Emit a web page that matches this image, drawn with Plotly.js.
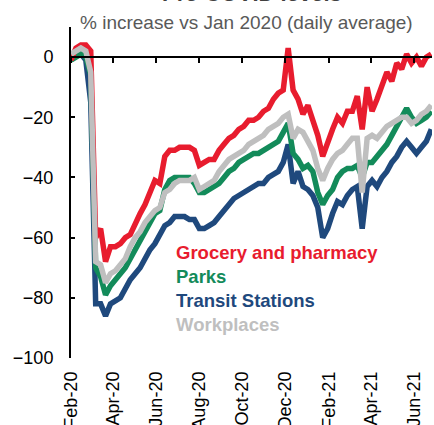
<!DOCTYPE html>
<html>
<head>
<meta charset="utf-8">
<script src="https://cdn.plot.ly/plotly-3.0.1.min.js"></script>
<style>html,body{margin:0;padding:0;background:#fff;}#chart{width:434px;height:425px;}</style>
</head>
<body>
<div id="chart"></div>
<script>
// Weekly observation dates
const dates = [
 '2020-02-15','2020-02-22','2020-02-29','2020-03-07','2020-03-14','2020-03-21','2020-03-28',
 '2020-04-04','2020-04-11','2020-04-18','2020-04-25','2020-05-02','2020-05-09','2020-05-16',
 '2020-05-23','2020-05-30','2020-06-06','2020-06-13','2020-06-20','2020-06-27','2020-07-04',
 '2020-07-11','2020-07-18','2020-07-25','2020-08-01','2020-08-08','2020-08-15','2020-08-22',
 '2020-08-29','2020-09-05','2020-09-12','2020-09-19','2020-09-26','2020-10-03','2020-10-10',
 '2020-10-17','2020-10-24','2020-10-31','2020-11-07','2020-11-14','2020-11-21','2020-11-28',
 '2020-12-05','2020-12-12','2020-12-19','2020-12-26','2021-01-02','2021-01-09','2021-01-16',
 '2021-01-23','2021-01-30','2021-02-06','2021-02-13','2021-02-20','2021-02-27','2021-03-06',
 '2021-03-13','2021-03-20','2021-03-27','2021-04-03','2021-04-10','2021-04-17','2021-04-24',
 '2021-05-01','2021-05-08','2021-05-15','2021-05-22','2021-05-29','2021-06-05','2021-06-12',
 '2021-06-19','2021-06-26','2021-07-03','2021-07-10'
];

const grocery = [-1,3,4,4,2,-60,-57,-68,-63,-63,-62,-60,-59,-55,-52,-49,-45,-41,-42,-33,-31,-31,-30,-30,-30,-31,-36,-35,-34,-34,-31,-29,-27,-26,-24,-23,-21,-21,-20,-18,-17,-14,-12,-11,3,-11,-14,-19,-16,-21,-26,-33,-28,-24,-20,-22,-18,-18,-13,-24,-10,-18,-14,-9,-5,-8,-2,-4,1,-2,0,-3,0,1];

const parks = [-1,0,1,0,-6,-70,-73,-79,-76,-74,-72,-70,-67,-64,-61,-58,-55,-52,-51,-44,-41,-40,-40,-40,-40,-42,-45,-45,-44,-43,-42,-40,-38,-37,-35,-34,-33,-32,-32,-31,-30,-29,-28,-25,-22,-32,-34,-37,-36,-38,-45,-49,-46,-44,-40,-38,-37,-37,-36,-40,-35,-35,-33,-31,-29,-26,-23,-20,-17,-20,-22,-21,-20,-18];

const transit = [0,1,1,-1,-15,-82,-82,-86,-82,-81,-80,-77,-74,-72,-70,-67,-64,-62,-59,-56,-55,-53,-53,-53,-54,-54,-57,-57,-56,-55,-53,-51,-49,-47,-46,-45,-44,-43,-42,-42,-40,-39,-38,-35,-29,-42,-38,-43,-44,-46,-50,-60,-57,-52,-48,-49,-46,-44,-43,-57,-43,-41,-43,-40,-38,-35,-33,-30,-28,-30,-32,-30,-28,-24];

const workplaces = [1,2,3,2,-5,-68,-69,-75,-72,-71,-69,-67,-63,-60,-58,-55,-53,-51,-50,-45,-44,-42,-41,-41,-41,-40,-44,-43,-42,-41,-38,-36,-34,-33,-32,-31,-29,-28,-27,-26,-24,-23,-22,-20,-19,-27,-24,-25,-28,-31,-37,-41,-37,-34,-32,-31,-29,-27,-27,-45,-27,-26,-27,-25,-23,-22,-21,-20,-20,-22,-21,-19,-18,-16];

const tickDates = ['2020-02-15','2020-04-15','2020-06-15','2020-08-15','2020-10-15','2020-12-15','2021-02-15','2021-04-15','2021-06-15'];
const tickLabels = ['Feb-20','Apr-20','Jun-20','Aug-20','Oct-20','Dec-20','Feb-21','Apr-21','Jun-21'];
const yTicks = [-100,-80,-60,-40,-20,0];

const seriesNames = ['Transit Stations','Parks','Grocery and pharmacy','Workplaces'];
const seriesData = [transit, parks, grocery, workplaces];
const seriesColors = ['#1F497D','#138B5A','#E81C2E','#BFBFBF'];

const FONT = 'Arial, "Liberation Sans", sans-serif';

const traces = seriesNames.map((n, i) => ({
  x: dates, y: seriesData[i], name: n, type: 'scatter', mode: 'lines',
  line: {color: seriesColors[i], width: 5.5}, hoverinfo: 'skip'
}));
traces.push({x: [dates[0]], y: [null], xaxis: 'x2', yaxis: 'y', mode: 'lines', showlegend: false, hoverinfo: 'skip'});

const xRange = ['2020-02-15', '2021-07-11'];

const legendItems = [
  {text: 'Grocery and pharmacy', color: '#E81C2E', y: 0.320},
  {text: 'Parks', color: '#138B5A', y: 0.245},
  {text: 'Transit Stations', color: '#1F497D', y: 0.175},
  {text: 'Workplaces', color: '#BFBFBF', y: 0.100}
];

const annotations = legendItems.map(it => ({
  xref: 'paper', yref: 'paper', x: 0.285, y: it.y, xanchor: 'left', yanchor: 'middle',
  text: '<b>' + it.text + '</b>', showarrow: false,
  font: {family: FONT, size: 18.5, color: it.color}
}));
annotations.push({
  xref: 'paper', yref: 'paper', x: 0.485, y: 1.015, xanchor: 'center', yanchor: 'middle',
  text: '% increase vs Jan 2020 (daily average)', showarrow: false,
  font: {family: FONT, size: 19, color: '#595959'}
});
annotations.push({
  xref: 'paper', yref: 'paper', x: 0.501, y: 1.0604, xanchor: 'center', yanchor: 'bottom',
  text: '<b>Pre-COVID levels</b>', showarrow: false, borderpad: 0,
  font: {family: FONT, size: 22, color: '#404040'}
});

const layout = {
  width: 434, height: 425,
  margin: {l: 71, r: 2, t: 27, b: 67},
  paper_bgcolor: '#ffffff', plot_bgcolor: '#ffffff',
  showlegend: false,
  font: {family: FONT, size: 18, color: '#000000'},
  xaxis: {
    type: 'date', range: xRange, tickvals: tickDates, ticktext: tickLabels,
    tickangle: -90, ticks: '', showline: false, showgrid: false, zeroline: false,
    tickfont: {family: FONT, size: 18, color: '#000000'}, automargin: false,
    ticklabelstandoff: 9
  },
  xaxis2: {
    type: 'date', range: xRange, overlaying: 'x', anchor: 'free', position: 100/110,
    side: 'bottom', tickvals: tickDates, ticks: 'outside', ticklen: 5, tickwidth: 2,
    tickcolor: '#000000', showline: true, linewidth: 2, linecolor: '#000000',
    showticklabels: false, showgrid: false, zeroline: false
  },
  yaxis: {
    range: [-100, 10], tickvals: yTicks, ticks: 'inside', ticklen: 4, tickwidth: 2,
    tickcolor: '#000000', showline: true, linewidth: 2, linecolor: '#000000',
    showgrid: false, zeroline: false, automargin: false,
    tickfont: {family: FONT, size: 18, color: '#000000'}, ticklabelstandoff: 12
  },
  annotations: annotations
};

Plotly.newPlot('chart', traces, layout, {staticPlot: true, displayModeBar: false});
</script>
</body>
</html>
